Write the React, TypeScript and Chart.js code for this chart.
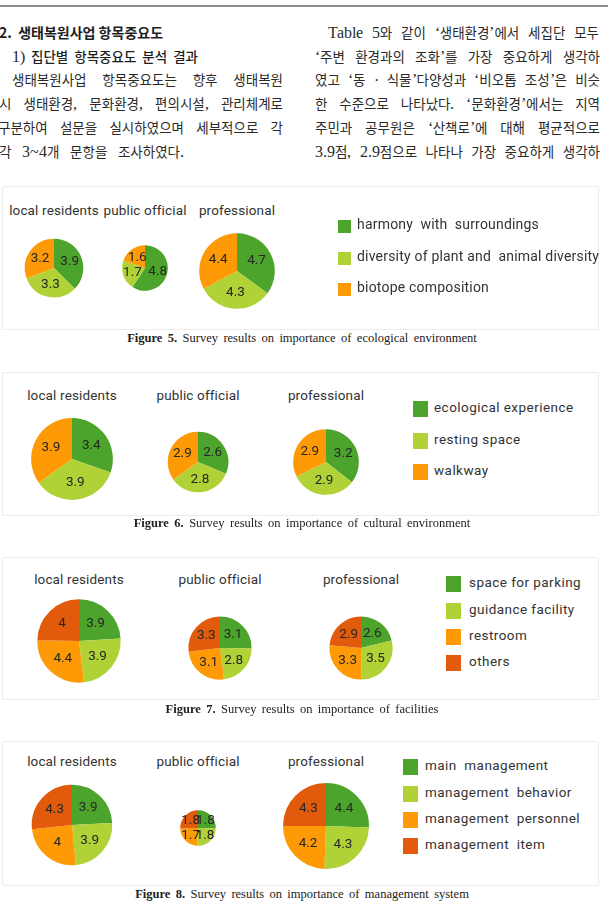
import React, { useEffect, useRef } from "react";
import { Chart, registerables } from "chart.js";

Chart.register(...registerables);

// Respondent groups, one pie each
const GROUPS = ["local residents", "public official", "professional"];

// Figure 5 – ecological environment
const ECO_ITEMS = ["harmony  with  surroundings", "diversity of plant and  animal diversity", "biotope composition"];
const ECO_RESIDENTS = [3.9, 3.3, 3.2];
const ECO_OFFICIAL = [4.8, 1.7, 1.6];
const ECO_PROFESSIONAL = [4.7, 4.3, 4.4];

// Figure 6 – cultural environment
const CULTURE_ITEMS = ["ecological experience", "resting space", "walkway"];
const CULTURE_RESIDENTS = [3.4, 3.9, 3.9];
const CULTURE_OFFICIAL = [2.6, 2.8, 2.9];
const CULTURE_PROFESSIONAL = [3.2, 2.9, 2.9];

// Figure 7 – facilities
const FACILITY_ITEMS = ["space for parking", "guidance facility", "restroom", "others"];
const FACILITY_RESIDENTS = [3.9, 3.9, 4.4, 4];
const FACILITY_OFFICIAL = [3.1, 2.8, 3.1, 3.3];
const FACILITY_PROFESSIONAL = [2.6, 3.5, 3.3, 2.9];

// Figure 8 – management system
const MANAGEMENT_ITEMS = ["main  management", "management  behavior", "management  personnel", "management  item"];
const MANAGEMENT_RESIDENTS = [3.9, 3.9, 4, 4.3];
const MANAGEMENT_OFFICIAL = [1.8, 1.8, 1.7, 1.8];
const MANAGEMENT_PROFESSIONAL = [4.4, 4.3, 4.2, 4.3];

const GREEN = "#4ca42d";
const LIME = "#b0d236";
const ORANGE = "#fe9a06";
const RED = "#e25b0c";
const COLORS_3 = [GREEN, LIME, ORANGE];
const COLORS_4 = [GREEN, LIME, ORANGE, RED];

const CANVAS = 110;
const CHART_FONT = "Roboto, 'Noto Sans', sans-serif";
const BODY_FONT = "'BodyLatin', 'Noto Sans CJK KR', serif";
const INK = "#2a2a2a";

// Latin glyphs of the body text are set a little larger so they sit well next to Hangul
const FONT_CSS = `
@font-face {
  font-family: "BodyLatin";
  src: local("Liberation Serif"), local("LiberationSerif");
  size-adjust: 116%;
  unicode-range: U+0020-007E, U+00A0-00FF, U+2018-201D;
}
`;

// Writes each slice's value inside the slice
const valueLabels = {
  id: "valueLabels",
  afterDatasetsDraw(chart: any) {
    const { ctx } = chart;
    const meta = chart.getDatasetMeta(0);
    const data = chart.data.datasets[0].data as number[];
    ctx.save();
    ctx.font = "13.5px Roboto";
    ctx.fillStyle = "#262626";
    ctx.textAlign = "center";
    ctx.textBaseline = "middle";
    meta.data.forEach((arc: any, i: number) => {
      const { x, y, startAngle, endAngle, outerRadius } = arc.getProps(
        ["x", "y", "startAngle", "endAngle", "outerRadius"],
        true
      );
      const mid = (startAngle + endAngle) / 2;
      const r = outerRadius * 0.58;
      ctx.fillText(String(data[i]), x + Math.cos(mid) * r, y + Math.sin(mid) * r);
    });
    ctx.restore();
  },
};

type PieProps = {
  values: number[];
  labels: string[];
  colors: string[];
  pxPerPoint: number;
  cx: number;
  cy: number;
};

function PieChart({ values, labels, colors, pxPerPoint, cx, cy }: PieProps) {
  const ref = useRef<HTMLCanvasElement | null>(null);
  useEffect(() => {
    const total = values.reduce((s, v) => s + v, 0);
    const chart = new Chart(ref.current as HTMLCanvasElement, {
      type: "pie",
      data: {
        labels,
        datasets: [{ data: values, backgroundColor: colors, borderWidth: 0 }],
      },
      options: {
        animation: false,
        responsive: false,
        events: [],
        radius: total * pxPerPoint,
        layout: { padding: 0 },
        plugins: { legend: { display: false }, tooltip: { enabled: false } },
      } as any,
      plugins: [valueLabels],
    });
    return () => chart.destroy();
  }, [values, labels, colors, pxPerPoint]);
  return (
    <canvas
      ref={ref}
      width={CANVAS}
      height={CANVAS}
      style={{ position: "absolute", left: cx - CANVAS / 2, top: cy - CANVAS / 2, width: CANVAS, height: CANVAS }}
    />
  );
}

type FigureSpec = {
  boxTop: number;
  boxBottom: number;
  titleY: number;
  cols: number[];
  pieY: number[];
  series: number[][];
  items: string[];
  colors: string[];
  pxPerPoint: number;
  swatchX: number;
  swatchW: number;
  swatchH: number;
  textX: number;
  rows: number[];
  legendFont: number;
  legendSpacing: number;
  label: string;
  caption: string;
  captionY: number;
};

const FIGURES: FigureSpec[] = [
  {
    boxTop: 186, boxBottom: 330, titleY: 212,
    cols: [54, 145, 237], pieY: [268, 268, 271],
    series: [ECO_RESIDENTS, ECO_OFFICIAL, ECO_PROFESSIONAL],
    items: ECO_ITEMS, colors: COLORS_3, pxPerPoint: 2.82,
    swatchX: 338, swatchW: 13, swatchH: 13, textX: 357, rows: [226, 258, 289],
    legendFont: 14, legendSpacing: 0.2,
    label: "Figure 5.", caption: "Survey results on importance of ecological environment", captionY: 341,
  },
  {
    boxTop: 372, boxBottom: 516, titleY: 397,
    cols: [72, 198, 326], pieY: [459, 462, 462],
    series: [CULTURE_RESIDENTS, CULTURE_OFFICIAL, CULTURE_PROFESSIONAL],
    items: CULTURE_ITEMS, colors: COLORS_3, pxPerPoint: 3.65,
    swatchX: 413, swatchW: 15, swatchH: 16, textX: 434, rows: [409, 441, 472],
    legendFont: 13.5, legendSpacing: 0.45,
    label: "Figure 6.", caption: "Survey results on importance of cultural environment", captionY: 526,
  },
  {
    boxTop: 557, boxBottom: 700, titleY: 581,
    cols: [79, 220, 361], pieY: [641, 648, 648],
    series: [FACILITY_RESIDENTS, FACILITY_OFFICIAL, FACILITY_PROFESSIONAL],
    items: FACILITY_ITEMS, colors: COLORS_4, pxPerPoint: 2.57,
    swatchX: 446, swatchW: 15, swatchH: 16, textX: 469, rows: [584, 611, 637, 663],
    legendFont: 13.5, legendSpacing: 0.45,
    label: "Figure 7.", caption: "Survey results on importance of facilities", captionY: 712,
  },
  {
    boxTop: 741, boxBottom: 886, titleY: 763,
    cols: [72, 198, 326], pieY: [825, 828, 826],
    series: [MANAGEMENT_RESIDENTS, MANAGEMENT_OFFICIAL, MANAGEMENT_PROFESSIONAL],
    items: MANAGEMENT_ITEMS, colors: COLORS_4, pxPerPoint: 2.5,
    swatchX: 403, swatchW: 15, swatchH: 16, textX: 425, rows: [767, 794, 820, 846],
    legendFont: 13.5, legendSpacing: 0.45,
    label: "Figure 8.", caption: "Survey results on importance of management system", captionY: 897,
  },
];

function Figure({ spec }: { spec: FigureSpec }) {
  return (
    <>
      <div
        style={{
          position: "absolute", left: 2, top: spec.boxTop, width: 597, height: spec.boxBottom - spec.boxTop,
          border: "1px solid #ececec", borderRadius: 2, boxSizing: "border-box",
        }}
      />
      {GROUPS.map((g, i) => (
        <div
          key={g}
          style={{
            position: "absolute", left: spec.cols[i] - 60, width: 120, top: spec.titleY - 10, lineHeight: "20px",
            textAlign: "center", font: `13.5px ${CHART_FONT}`, letterSpacing: "0.15px", color: "#333", whiteSpace: "nowrap",
          }}
        >
          {g}
        </div>
      ))}
      {spec.series.map((vals, i) => (
        <PieChart
          key={i}
          values={vals}
          labels={spec.items}
          colors={spec.colors}
          pxPerPoint={spec.pxPerPoint}
          cx={spec.cols[i]}
          cy={spec.pieY[i]}
        />
      ))}
      {spec.items.map((item, i) => (
        <React.Fragment key={item}>
          <div
            style={{
              position: "absolute", left: spec.swatchX, top: spec.rows[i] - spec.swatchH / 2,
              width: spec.swatchW, height: spec.swatchH, background: spec.colors[i],
            }}
          />
          <div
            style={{
              position: "absolute", left: spec.textX, top: spec.rows[i] - 10, lineHeight: "20px",
              font: `${spec.legendFont}px ${CHART_FONT}`, letterSpacing: `${spec.legendSpacing}px`,
              color: "#333", whiteSpace: "pre",
            }}
          >
            {item}
          </div>
        </React.Fragment>
      ))}
      <div
        style={{
          position: "absolute", left: 0, width: 604, top: spec.captionY - 10, lineHeight: "20px",
          textAlign: "center", font: `12.5px 'Liberation Serif', serif`, color: "#222",
          wordSpacing: "2.3px", whiteSpace: "nowrap",
        }}
      >
        <b>{spec.label}</b> {spec.caption}
      </div>
    </>
  );
}

// Body text of the page, line by line
const LEFT_LINES = [
  "생태복원사업 항목중요도는 향후 생태복원",
  "시 생태환경, 문화환경, 편의시설, 관리체계로",
  "구분하여 설문을 실시하였으며 세부적으로 각",
  "각 3~4개 문항을 조사하였다.",
];
const RIGHT_LINES = [
  "Table 5와 같이 ‘생태환경’에서 세집단 모두",
  "‘주변 환경과의 조화’를 가장 중요하게 생각하",
  "였고 ‘동 · 식물’다양성과 ‘비오톱 조성’은 비슷",
  "한 수준으로 나타났다. ‘문화환경’에서는 지역",
  "주민과 공무원은 ‘산책로’에 대해 평균적으로",
  "3.9점, 2.9점으로 나타나 가장 중요하게 생각하",
];

const LINE_Y0 = 33;
const LINE_STEP = 23.7;

function Line({ text, x, width, y }: { text: string; x: number; width?: number; y: number }) {
  return (
    <div
      style={{
        position: "absolute", left: x, top: y - 11, width, lineHeight: "22px", whiteSpace: "nowrap",
        font: `13.5px ${BODY_FONT}`, color: INK, textAlign: "justify", textAlignLast: "justify",
      } as any}
    >
      {text}
    </div>
  );
}

export default function App() {
  return (
    <div style={{ position: "absolute", left: 0, top: 0, width: 608, height: 905, background: "#fff", overflow: "hidden" }}>
      <style>{FONT_CSS}</style>
      <div style={{ position: "absolute", left: 0, top: 5, width: 608, height: 2, background: "#8c8c8c" }} />
      <div
        style={{
          position: "absolute", left: -1, top: LINE_Y0 - 11, lineHeight: "22px", whiteSpace: "pre",
          font: `bold 14px 'Noto Sans CJK KR', sans-serif`, color: "#1e1e1e",
        }}
      >
        {"2.  생태복원사업 항목중요도"}
      </div>
      <div
        style={{
          position: "absolute", left: 12, top: LINE_Y0 + LINE_STEP - 11, lineHeight: "22px", whiteSpace: "pre",
          font: `500 13.5px ${BODY_FONT}`, color: "#1e1e1e", wordSpacing: "2px",
        }}
      >
        {"1) 집단별 항목중요도 분석 결과"}
      </div>
      <Line text={LEFT_LINES[0]} x={12} width={271} y={LINE_Y0 + LINE_STEP * 2} />
      <Line text={LEFT_LINES[1]} x={-1} width={284} y={LINE_Y0 + LINE_STEP * 3} />
      <Line text={LEFT_LINES[2]} x={-2} width={285} y={LINE_Y0 + LINE_STEP * 4} />
      <Line text={LEFT_LINES[3]} x={-1} width={185} y={LINE_Y0 + LINE_STEP * 5} />
      <Line text={RIGHT_LINES[0]} x={328} width={271} y={LINE_Y0} />
      {RIGHT_LINES.slice(1).map((t, i) => (
        <Line key={t} text={t} x={315} width={285} y={LINE_Y0 + LINE_STEP * (i + 1)} />
      ))}
      {FIGURES.map((f) => (
        <Figure key={f.label} spec={f} />
      ))}
    </div>
  );
}
